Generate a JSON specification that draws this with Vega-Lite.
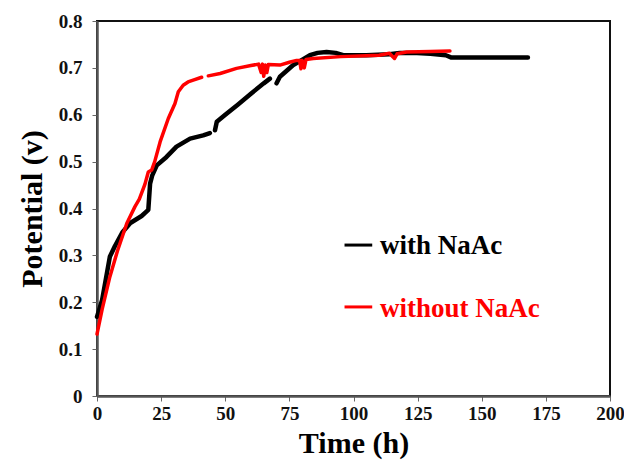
{
  "$schema": "https://vega.github.io/schema/vega-lite/v6.json",
  "width": 513,
  "height": 375,
  "autosize": "none",
  "padding": {"left": 97, "top": 21, "right": 14, "bottom": 70},
  "background": "white",
  "config": {
    "view": {"stroke": "#111", "strokeWidth": 2},
    "font": "Liberation Serif",
    "axis": {
      "grid": false,
      "domainColor": "#555",
      "domainWidth": 2.5,
      "tickColor": "#666",
      "tickSize": 5,
      "tickWidth": 1,
      "labelFont": "Liberation Serif",
      "labelFontWeight": "bold",
      "labelFontSize": 19,
      "labelColor": "#111",
      "titleFont": "Liberation Serif",
      "titleFontWeight": "bold",
      "titleFontSize": 30,
      "titleColor": "#000"
    }
  },
  "datasets": {
    "curves": [
      {"series": "with NaAc", "seg": "b1", "t": 0, "v": 0.169},
      {"series": "with NaAc", "seg": "b1", "t": 2, "v": 0.205},
      {"series": "with NaAc", "seg": "b1", "t": 5, "v": 0.297},
      {"series": "with NaAc", "seg": "b1", "t": 7, "v": 0.32},
      {"series": "with NaAc", "seg": "b1", "t": 10, "v": 0.35},
      {"series": "with NaAc", "seg": "b1", "t": 13, "v": 0.369},
      {"series": "with NaAc", "seg": "b1", "t": 17.4, "v": 0.384},
      {"series": "with NaAc", "seg": "b1", "t": 20, "v": 0.397},
      {"series": "with NaAc", "seg": "b1", "t": 20.7, "v": 0.453},
      {"series": "with NaAc", "seg": "b1", "t": 21.5, "v": 0.47},
      {"series": "with NaAc", "seg": "b1", "t": 23.3, "v": 0.492},
      {"series": "with NaAc", "seg": "b1", "t": 27.1, "v": 0.51},
      {"series": "with NaAc", "seg": "b1", "t": 31, "v": 0.532},
      {"series": "with NaAc", "seg": "b1", "t": 36.3, "v": 0.549},
      {"series": "with NaAc", "seg": "b1", "t": 41.4, "v": 0.556},
      {"series": "with NaAc", "seg": "b1", "t": 44, "v": 0.561},
      {"series": "with NaAc", "seg": "b2", "t": 46, "v": 0.567},
      {"series": "with NaAc", "seg": "b2", "t": 46.7, "v": 0.585},
      {"series": "with NaAc", "seg": "b2", "t": 50, "v": 0.6},
      {"series": "with NaAc", "seg": "b2", "t": 55, "v": 0.622},
      {"series": "with NaAc", "seg": "b2", "t": 60, "v": 0.645},
      {"series": "with NaAc", "seg": "b2", "t": 65, "v": 0.667},
      {"series": "with NaAc", "seg": "b2", "t": 67.4, "v": 0.677},
      {"series": "with NaAc", "seg": "b3", "t": 70, "v": 0.667},
      {"series": "with NaAc", "seg": "b3", "t": 71.3, "v": 0.681},
      {"series": "with NaAc", "seg": "b3", "t": 76.5, "v": 0.706},
      {"series": "with NaAc", "seg": "b3", "t": 83, "v": 0.727},
      {"series": "with NaAc", "seg": "b3", "t": 86, "v": 0.732},
      {"series": "with NaAc", "seg": "b3", "t": 89.5, "v": 0.734},
      {"series": "with NaAc", "seg": "b3", "t": 93, "v": 0.732},
      {"series": "with NaAc", "seg": "b3", "t": 96, "v": 0.727},
      {"series": "with NaAc", "seg": "b3", "t": 105, "v": 0.727},
      {"series": "with NaAc", "seg": "b3", "t": 114, "v": 0.729},
      {"series": "with NaAc", "seg": "b3", "t": 118, "v": 0.732},
      {"series": "with NaAc", "seg": "b3", "t": 123, "v": 0.732},
      {"series": "with NaAc", "seg": "b3", "t": 130, "v": 0.73},
      {"series": "with NaAc", "seg": "b3", "t": 136, "v": 0.727},
      {"series": "with NaAc", "seg": "b3", "t": 138.2, "v": 0.722},
      {"series": "with NaAc", "seg": "b3", "t": 168, "v": 0.722},
      {"series": "without NaAc", "seg": "r1", "t": 0, "v": 0.132},
      {"series": "without NaAc", "seg": "r1", "t": 2, "v": 0.185},
      {"series": "without NaAc", "seg": "r1", "t": 5, "v": 0.254},
      {"series": "without NaAc", "seg": "r1", "t": 8, "v": 0.31},
      {"series": "without NaAc", "seg": "r1", "t": 11.6, "v": 0.368},
      {"series": "without NaAc", "seg": "r1", "t": 14.8, "v": 0.404},
      {"series": "without NaAc", "seg": "r1", "t": 16.5, "v": 0.42},
      {"series": "without NaAc", "seg": "r1", "t": 18.7, "v": 0.452},
      {"series": "without NaAc", "seg": "r1", "t": 20, "v": 0.478},
      {"series": "without NaAc", "seg": "r1", "t": 21.3, "v": 0.482},
      {"series": "without NaAc", "seg": "r1", "t": 22.5, "v": 0.5},
      {"series": "without NaAc", "seg": "r1", "t": 24.6, "v": 0.542},
      {"series": "without NaAc", "seg": "r1", "t": 27.8, "v": 0.592},
      {"series": "without NaAc", "seg": "r1", "t": 30.4, "v": 0.624},
      {"series": "without NaAc", "seg": "r1", "t": 31.7, "v": 0.649},
      {"series": "without NaAc", "seg": "r1", "t": 33.6, "v": 0.663},
      {"series": "without NaAc", "seg": "r1", "t": 35.5, "v": 0.67},
      {"series": "without NaAc", "seg": "r1", "t": 37.5, "v": 0.674},
      {"series": "without NaAc", "seg": "r1", "t": 40.8, "v": 0.68},
      {"series": "without NaAc", "seg": "r2", "t": 43.4, "v": 0.683},
      {"series": "without NaAc", "seg": "r2", "t": 48, "v": 0.688},
      {"series": "without NaAc", "seg": "r2", "t": 54.4, "v": 0.699},
      {"series": "without NaAc", "seg": "r2", "t": 60, "v": 0.705},
      {"series": "without NaAc", "seg": "r2", "t": 63, "v": 0.708},
      {"series": "without NaAc", "seg": "r2", "t": 64, "v": 0.69},
      {"series": "without NaAc", "seg": "r2", "t": 64.5, "v": 0.708},
      {"series": "without NaAc", "seg": "r2", "t": 65, "v": 0.682},
      {"series": "without NaAc", "seg": "r2", "t": 65.6, "v": 0.706},
      {"series": "without NaAc", "seg": "r2", "t": 66.2, "v": 0.69},
      {"series": "without NaAc", "seg": "r2", "t": 66.8, "v": 0.707},
      {"series": "without NaAc", "seg": "r2", "t": 71.3, "v": 0.706},
      {"series": "without NaAc", "seg": "r2", "t": 75, "v": 0.712},
      {"series": "without NaAc", "seg": "r2", "t": 77.8, "v": 0.716},
      {"series": "without NaAc", "seg": "r2", "t": 79, "v": 0.716},
      {"series": "without NaAc", "seg": "r2", "t": 79.5, "v": 0.698},
      {"series": "without NaAc", "seg": "r2", "t": 80, "v": 0.716},
      {"series": "without NaAc", "seg": "r2", "t": 80.8, "v": 0.7},
      {"series": "without NaAc", "seg": "r2", "t": 81.5, "v": 0.718},
      {"series": "without NaAc", "seg": "r2", "t": 84.3, "v": 0.72},
      {"series": "without NaAc", "seg": "r2", "t": 95, "v": 0.724},
      {"series": "without NaAc", "seg": "r2", "t": 110, "v": 0.727},
      {"series": "without NaAc", "seg": "r2", "t": 114, "v": 0.731},
      {"series": "without NaAc", "seg": "r2", "t": 116, "v": 0.72},
      {"series": "without NaAc", "seg": "r2", "t": 117, "v": 0.73},
      {"series": "without NaAc", "seg": "r2", "t": 120.7, "v": 0.734},
      {"series": "without NaAc", "seg": "r2", "t": 130, "v": 0.735},
      {"series": "without NaAc", "seg": "r2", "t": 137.6, "v": 0.736}
    ],
    "legendLines": [
      {"series": "with NaAc", "seg": "lb", "t": 96.5, "v": 0.322},
      {"series": "with NaAc", "seg": "lb", "t": 107.3, "v": 0.322},
      {"series": "without NaAc", "seg": "lr", "t": 96.5, "v": 0.19},
      {"series": "without NaAc", "seg": "lr", "t": 107.3, "v": 0.19}
    ],
    "legendText": [
      {"series": "with NaAc", "t": 110.3, "v": 0.32},
      {"series": "without NaAc", "t": 110.3, "v": 0.186}
    ]
  },
  "layer": [
    {
      "data": {"name": "curves"},
      "mark": {"type": "line", "strokeCap": "round", "strokeJoin": "round"},
      "encoding": {
        "x": {
          "field": "t", "type": "quantitative",
          "scale": {"domain": [0, 200], "nice": false},
          "axis": {
            "title": "Time (h)",
            "values": [0, 12.5, 25, 37.5, 50, 62.5, 75, 87.5, 100, 112.5, 125, 137.5, 150, 162.5, 175, 187.5, 200],
            "labelExpr": "datum.value % 25 === 0 ? datum.label : ''",
            "labelPadding": 3,
            "titlePadding": 5,
            "labelFlush": false
          }
        },
        "y": {
          "field": "v", "type": "quantitative",
          "scale": {"domain": [0, 0.8], "nice": false},
          "axis": {
            "title": "Potential (v)",
            "values": [0, 0.05, 0.1, 0.15, 0.2, 0.25, 0.3, 0.35, 0.4, 0.45, 0.5, 0.55, 0.6, 0.65, 0.7, 0.75, 0.8],
            "labelExpr": "round(datum.value*100) % 10 === 0 ? (datum.value === 0 ? '0' : format(datum.value, '.1f')) : ''",
            "labelPadding": 10,
            "titlePadding": 11,
            "labelFlush": false
          }
        },
        "color": {
          "field": "series", "type": "nominal",
          "scale": {"domain": ["with NaAc", "without NaAc"], "range": ["#000000", "#ff0000"]},
          "legend": null
        },
        "strokeWidth": {
          "field": "series", "type": "nominal",
          "scale": {"domain": ["with NaAc", "without NaAc"], "range": [4.5, 3.5]},
          "legend": null
        },
        "detail": {"field": "seg"}
      }
    },
    {
      "data": {"name": "legendLines"},
      "mark": {"type": "line", "strokeWidth": 3},
      "encoding": {
        "x": {"field": "t", "type": "quantitative"},
        "y": {"field": "v", "type": "quantitative"},
        "color": {"field": "series", "type": "nominal", "legend": null},
        "detail": {"field": "seg"}
      }
    },
    {
      "data": {"name": "legendText"},
      "mark": {"type": "text", "align": "left", "baseline": "middle", "font": "Liberation Serif", "fontWeight": "bold", "fontSize": 27},
      "encoding": {
        "x": {"field": "t", "type": "quantitative"},
        "y": {"field": "v", "type": "quantitative"},
        "text": {"field": "series"},
        "color": {"field": "series", "type": "nominal", "legend": null}
      }
    }
  ]
}
